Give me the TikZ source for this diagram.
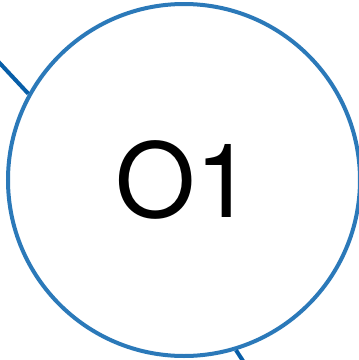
\documentclass[tikz,border=0pt]{standalone}
\usepackage{fontspec}
\newfontfamily\labelfont{TeX Gyre Heros}
\definecolor{ringblue}{HTML}{2B79B9}
\definecolor{linkblue}{HTML}{075EA8}
\tikzset{
  opnode/.style={circle, draw=ringblue, line width=4pt, fill=white, minimum size=352pt, inner sep=0pt,
    font=\labelfont\fontsize{103}{103}\selectfont},
  link/.style={draw=linkblue, line width=4pt}
}
\begin{document}
\begin{tikzpicture}[x=1pt, y=-1pt]
    \useasboundingbox (0,0) rectangle (359,360);
    \coordinate (inA) at (-20,42);
    \coordinate (outB) at (247,367);
    \node[opnode] (o1) at (184,180) {O1};
    \draw[link] (inA) -- (o1.151);
    \draw[link] (outB) -- (o1.-73);
\end{tikzpicture}
\end{document}
